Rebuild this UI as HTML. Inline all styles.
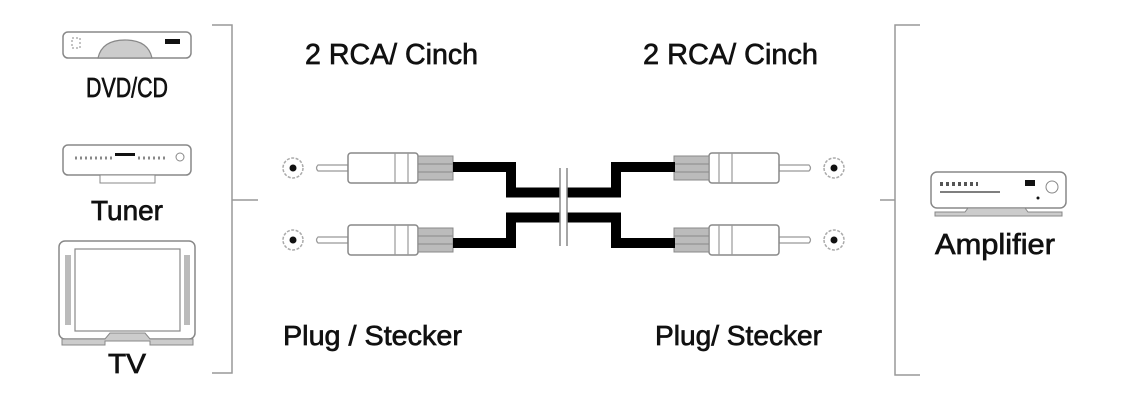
<!DOCTYPE html>
<html><head><meta charset="utf-8"><style>
html,body{margin:0;padding:0;background:#fff;width:1126px;height:405px;overflow:hidden}
svg text{font-family:"Liberation Sans Narrow","Liberation Sans",sans-serif;fill:#111;stroke:#111;stroke-width:0.7}
</style></head><body>
<svg width="1126" height="405" viewBox="0 0 1126 405" xmlns="http://www.w3.org/2000/svg">
<defs>
<g id="plugL">
  <circle cx="0" cy="0" r="10" fill="none" stroke="#aaa" stroke-width="1.5" stroke-dasharray="3 1.5"/>
  <circle cx="0" cy="0" r="3.5" fill="#111"/>
  <path d="M25,-3 L55,-3 L55,3 L25,3 Q22,0 25,-3Z" fill="#fff" stroke="#999" stroke-width="1.2"/>
  <rect x="55" y="-15" width="70" height="30" rx="3" fill="#fff" stroke="#888" stroke-width="1.5"/>
  <line x1="102" y1="-15" x2="102" y2="15" stroke="#999" stroke-width="1.2"/>
  <line x1="115" y1="-15" x2="115" y2="15" stroke="#999" stroke-width="1.2"/>
  <rect x="125" y="-12" width="35" height="24" fill="#bbb" stroke="#888" stroke-width="1"/>
  <line x1="125" y1="-4" x2="160" y2="-4" stroke="#888"/>
  <line x1="125" y1="4" x2="160" y2="4" stroke="#888"/>
</g>
</defs>
<text x="305" y="64" font-size="29" textLength="173" lengthAdjust="spacingAndGlyphs">2 RCA/ Cinch</text>
<text x="643" y="64" font-size="29" textLength="175" lengthAdjust="spacingAndGlyphs">2 RCA/ Cinch</text>
<text x="283" y="345" font-size="28" textLength="179" lengthAdjust="spacingAndGlyphs">Plug / Stecker</text>
<text x="655" y="345" font-size="28" textLength="167" lengthAdjust="spacingAndGlyphs">Plug/ Stecker</text>
<path d="M212,25 H232 V373 H212 M232,200 H258" fill="none" stroke="#999" stroke-width="1.5"/>
<path d="M920,25 H895 V375 H920 M880,200 H895" fill="none" stroke="#999" stroke-width="1.5"/>
<g transform="translate(293,168)"><use href="#plugL"/></g>
<g transform="translate(293,240)"><use href="#plugL"/></g>
<g transform="translate(834,168) scale(-1,1)"><use href="#plugL"/></g>
<g transform="translate(834,240) scale(-1,1)"><use href="#plugL"/></g>
<path d="M453,167 H511 V192.5 H560 M567,192.5 H616 V167 H675" fill="none" stroke="#000" stroke-width="10"/>
<path d="M453,243 H511 V217.5 H560 M567,217.5 H616 V243 H675" fill="none" stroke="#000" stroke-width="10"/>
<line x1="560" y1="168" x2="560" y2="246" stroke="#888" stroke-width="1.5"/>
<line x1="567" y1="168" x2="567" y2="246" stroke="#888" stroke-width="1.5"/>
<!-- DVD -->
<rect x="63" y="32" width="128" height="26" rx="5" fill="#fff" stroke="#888" stroke-width="1.5"/>
<path d="M98,58 Q102,40 125,40 Q148,40 152,58Z" fill="#ccc" stroke="#888" stroke-width="1.2"/>
<rect x="165" y="39" width="15" height="5" fill="#111"/>
<rect x="72" y="38" width="8" height="10" fill="none" stroke="#888" stroke-dasharray="2 2"/>
<text x="127" y="97" font-size="28" text-anchor="middle" textLength="82" lengthAdjust="spacingAndGlyphs">DVD/CD</text>
<!-- Tuner -->
<rect x="63" y="145" width="128" height="30" rx="5" fill="#fff" stroke="#888" stroke-width="1.5"/>
<rect x="115" y="153" width="20" height="3" fill="#111"/>
<path d="M75,158 H112 M138,158 H165" stroke="#888" stroke-width="3" stroke-dasharray="2 3"/>
<circle cx="180" cy="157" r="4" fill="none" stroke="#888"/>
<rect x="100" y="175" width="55" height="8" fill="#fff" stroke="#888"/>
<text x="127" y="220" font-size="28" text-anchor="middle" textLength="72" lengthAdjust="spacingAndGlyphs">Tuner</text>
<!-- TV -->
<rect x="59" y="241" width="136" height="98" rx="6" fill="#fff" stroke="#888" stroke-width="1.5"/>
<rect x="75" y="249" width="105" height="82" fill="#fff" stroke="#888" stroke-width="1.2"/>
<rect x="65" y="255" width="6" height="70" fill="#bbb"/>
<rect x="184" y="255" width="6" height="70" fill="#bbb"/>
<path d="M62,339 H105 L110,333 H145 L150,339 H193 V345 H150 V341 H105 V345 H62Z" fill="#ccc" stroke="#888"/>
<text x="127" y="373" font-size="28" text-anchor="middle" textLength="38" lengthAdjust="spacingAndGlyphs">TV</text>
<!-- Amplifier -->
<rect x="931" y="172" width="135" height="36" rx="6" fill="#fff" stroke="#888" stroke-width="1.5"/>
<path d="M940,184 H978" stroke="#555" stroke-width="4" stroke-dasharray="3 3"/>
<path d="M940,192 H1000" stroke="#555" stroke-width="1.5"/>
<rect x="1025" y="180" width="10" height="6" fill="#111"/>
<circle cx="1052" cy="187" r="6" fill="none" stroke="#888"/>
<circle cx="1038" cy="198" r="1.5" fill="#111"/>
<path d="M935,212 H965 L968,208 H1025 L1028,212 H1062 V216 H935Z" fill="#ccc" stroke="#888"/>
<text x="935" y="254" font-size="29" textLength="120" lengthAdjust="spacingAndGlyphs">Amplifier</text>
</svg>
</body></html>
